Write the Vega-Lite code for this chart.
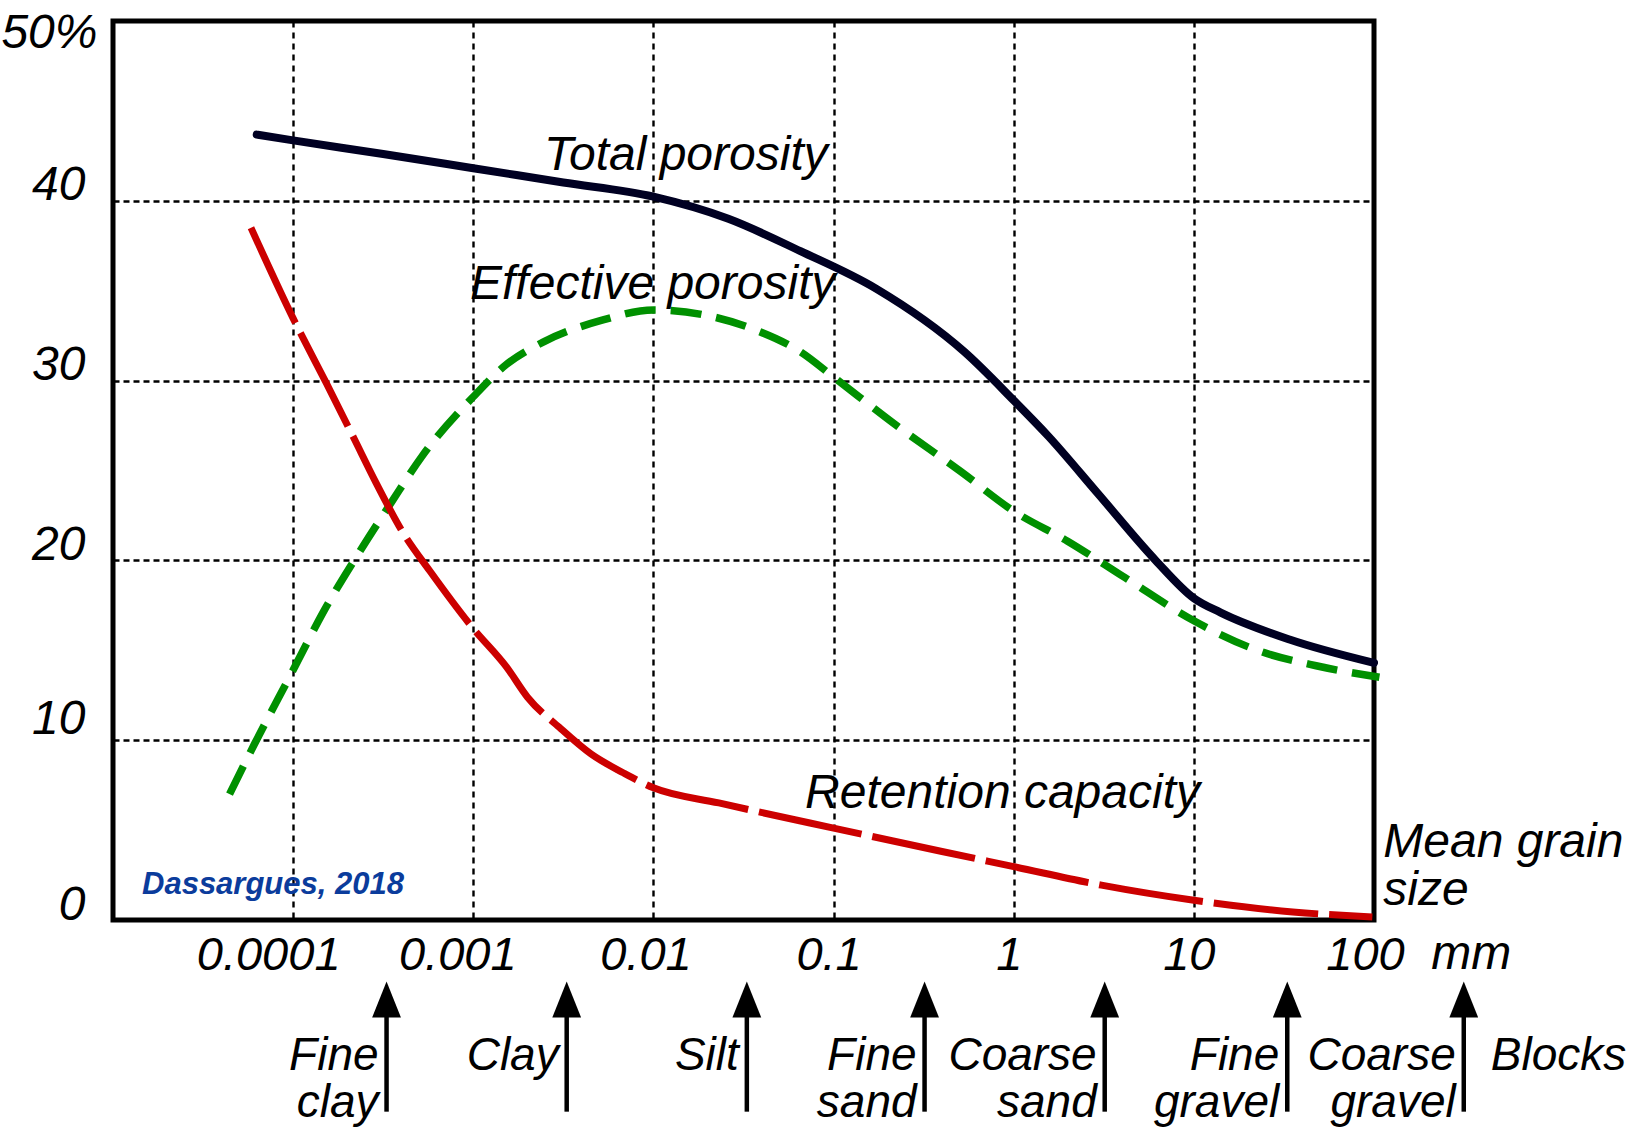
{
  "$schema": "https://vega.github.io/schema/vega-lite/v6.json",
  "width": 1261,
  "height": 899,
  "autosize": {"type": "none"},
  "padding": {"left": 113, "top": 21, "right": 273, "bottom": 209},
  "background": "white",
  "view": {"stroke": "black", "strokeWidth": 5},
  "config": {
    "font": "Liberation Sans",
    "axis": {
      "labelFont": "Liberation Sans",
      "labelFontStyle": "italic",
      "labelColor": "black",
      "domain": false,
      "ticks": false,
      "grid": true,
      "gridColor": "black",
      "gridOpacity": 1,
      "gridWidth": 2.4,
      "gridDash": [6, 4],
      "title": null,
      "labelFlush": false,
      "labelOverlap": false,
      "labelBound": false
    }
  },
  "datasets": {
    "total": [
      {"x": 0.0000628, "y": 43.68},
      {"x": 0.0001, "y": 43.36},
      {"x": 0.000316, "y": 42.6},
      {"x": 0.001, "y": 41.81},
      {"x": 0.00316, "y": 41.02},
      {"x": 0.01, "y": 40.23},
      {"x": 0.02606, "y": 39.0},
      {"x": 0.06546, "y": 37.2},
      {"x": 0.173, "y": 35.1},
      {"x": 0.532, "y": 31.6},
      {"x": 1, "y": 28.9},
      {"x": 1.56, "y": 26.9},
      {"x": 2.944, "y": 23.7},
      {"x": 6.138, "y": 20.0},
      {"x": 10, "y": 17.9},
      {"x": 14.09, "y": 17.1},
      {"x": 33.96, "y": 15.6},
      {"x": 100, "y": 14.3}
    ],
    "effective": [
      {"x": 0.00004436, "y": 7.0},
      {"x": 0.0000611, "y": 9.8},
      {"x": 0.0001, "y": 13.9},
      {"x": 0.0001459, "y": 17.07},
      {"x": 0.0002265, "y": 20.26},
      {"x": 0.0003516, "y": 23.24},
      {"x": 0.00052, "y": 25.8},
      {"x": 0.001, "y": 29.1},
      {"x": 0.001528, "y": 30.9},
      {"x": 0.002489, "y": 32.18},
      {"x": 0.005188, "y": 33.36},
      {"x": 0.01, "y": 33.93},
      {"x": 0.01849, "y": 33.68},
      {"x": 0.03673, "y": 32.82},
      {"x": 0.06546, "y": 31.6},
      {"x": 0.1, "y": 30.2},
      {"x": 0.2208, "y": 27.54},
      {"x": 0.507, "y": 24.95},
      {"x": 1, "y": 22.74},
      {"x": 1.991, "y": 21.07},
      {"x": 4.15, "y": 19.04},
      {"x": 10, "y": 16.64},
      {"x": 22.96, "y": 14.97},
      {"x": 47.75, "y": 14.14},
      {"x": 107.2, "y": 13.5}
    ],
    "retention": [
      {"x": 0.00005834, "y": 38.5},
      {"x": 0.0001, "y": 33.46},
      {"x": 0.0001531, "y": 29.84},
      {"x": 0.0002158, "y": 26.86},
      {"x": 0.0002891, "y": 24.3},
      {"x": 0.0004074, "y": 21.54},
      {"x": 0.0005741, "y": 19.41},
      {"x": 0.001, "y": 16.21},
      {"x": 0.001528, "y": 14.08},
      {"x": 0.002, "y": 12.39},
      {"x": 0.003006, "y": 10.71},
      {"x": 0.004519, "y": 9.22},
      {"x": 0.006792, "y": 8.19},
      {"x": 0.01, "y": 7.35},
      {"x": 0.02307, "y": 6.51},
      {"x": 0.1, "y": 5.11},
      {"x": 0.3999, "y": 3.81},
      {"x": 1, "y": 2.97},
      {"x": 3.069, "y": 1.94},
      {"x": 10, "y": 1.1},
      {"x": 35.4, "y": 0.45},
      {"x": 97.9, "y": 0.17}
    ],
    "notes": [
      {"x": 0.00247, "y": 41.71, "label": "Total porosity"},
      {"x": 0.000959, "y": 34.53, "label": "Effective porosity"},
      {"x": 0.0695, "y": 6.23, "label": "Retention capacity"},
      {"x": 112.6, "y": 3.48, "label": "Mean grain"},
      {"x": 112.6, "y": 0.81, "label": "size"},
      {"x": 208, "y": -2.75, "label": "mm"}
    ],
    "credit": [
      {"x": 0.00001449, "y": 1.47, "label": "Dassargues, 2018"}
    ],
    "arrows": [
      {"x": 0.00033, "y": -4.42, "y2": -10.66},
      {"x": 0.0033, "y": -4.42, "y2": -10.66},
      {"x": 0.033, "y": -4.42, "y2": -10.66},
      {"x": 0.32, "y": -4.42, "y2": -10.66},
      {"x": 3.2, "y": -4.42, "y2": -10.66},
      {"x": 33, "y": -4.42, "y2": -10.66},
      {"x": 315, "y": -4.42, "y2": -10.66}
    ],
    "classes": [
      {"x": 0.00033, "y": -8.32, "label": "Fine", "side": "left"},
      {"x": 0.00033, "y": -10.93, "label": "clay", "side": "left"},
      {"x": 0.0033, "y": -8.32, "label": "Clay", "side": "left"},
      {"x": 0.033, "y": -8.32, "label": "Silt", "side": "left"},
      {"x": 0.32, "y": -8.32, "label": "Fine", "side": "left"},
      {"x": 0.32, "y": -10.93, "label": "sand", "side": "left"},
      {"x": 3.2, "y": -8.32, "label": "Coarse", "side": "left"},
      {"x": 3.2, "y": -10.93, "label": "sand", "side": "left"},
      {"x": 33, "y": -8.32, "label": "Fine", "side": "left"},
      {"x": 33, "y": -10.93, "label": "gravel", "side": "left"},
      {"x": 315, "y": -8.32, "label": "Coarse", "side": "left"},
      {"x": 315, "y": -10.93, "label": "gravel", "side": "left"},
      {"x": 315, "y": -8.32, "label": "Blocks", "side": "right"}
    ]
  },
  "encoding": {
    "x": {
      "field": "x",
      "type": "quantitative",
      "scale": {"type": "log", "domain": [0.00001, 100], "nice": false},
      "axis": {
        "values": [0.0001, 0.001, 0.01, 0.1, 1, 10, 100],
        "labelExpr": "'' + datum.value",
        "labelFontSize": 47,
        "labelBaseline": "alphabetic",
        "labelAlign": "center",
        "labelPadding": 49.5,
        "gridDash": [6, 5],
        "labelOffset": {
          "condition": [
            {"test": "datum.value == 0.0001", "value": -25},
            {"test": "datum.value == 0.001", "value": -16},
            {"test": "datum.value == 0.01", "value": -8},
            {"test": "datum.value == 100", "value": -9}
          ],
          "value": -5
        }
      }
    },
    "y": {
      "field": "y",
      "type": "quantitative",
      "scale": {"domain": [0, 50], "nice": false, "zero": false},
      "axis": {
        "values": [0, 10, 20, 30, 40, 50],
        "labelExpr": "datum.value == 50 ? '50%' : '' + datum.value",
        "labelFontSize": 48,
        "labelBaseline": "alphabetic",
        "labelAlign": "right",
        "labelPadding": {
          "condition": {"test": "datum.value == 50", "value": 16},
          "value": 28
        },
        "labelOffset": {
          "condition": [
            {"test": "datum.value == 50", "value": 26.5},
            {"test": "datum.value == 10", "value": -7}
          ],
          "value": -1
        }
      }
    }
  },
  "layer": [
    {
      "data": {"name": "effective"},
      "mark": {"type": "line", "color": "#009000", "strokeWidth": 7.5, "strokeDash": [31, 15], "interpolate": "monotone"}
    },
    {
      "data": {"name": "retention"},
      "mark": {"type": "line", "color": "#cc0000", "strokeWidth": 7, "strokeDash": [105, 11], "interpolate": "monotone"}
    },
    {
      "data": {"name": "total"},
      "mark": {"type": "line", "color": "#000022", "strokeWidth": 8, "strokeCap": "round", "interpolate": "monotone"}
    },
    {
      "data": {"name": "notes"},
      "mark": {"type": "text", "align": "left", "baseline": "alphabetic", "fontSize": 48, "fontStyle": "italic", "font": "Liberation Sans", "color": "black"},
      "encoding": {"text": {"field": "label", "type": "nominal"}}
    },
    {
      "data": {"name": "credit"},
      "mark": {"type": "text", "align": "left", "baseline": "alphabetic", "fontSize": 31, "fontStyle": "italic", "fontWeight": "bold", "font": "Liberation Sans", "color": "#0b3c9c"},
      "encoding": {"text": {"field": "label", "type": "nominal"}}
    },
    {
      "data": {"name": "arrows"},
      "mark": {"type": "rule", "strokeWidth": 4.5, "color": "black"},
      "encoding": {"y2": {"field": "y2"}}
    },
    {
      "data": {"name": "arrows"},
      "mark": {"type": "point", "shape": "M0,-1L0.8,1L-0.8,1Z", "size": 1296, "filled": true, "color": "black", "opacity": 1, "strokeWidth": 0}
    },
    {
      "data": {"name": "classes"},
      "transform": [{"filter": "datum.side == 'left'"}],
      "mark": {"type": "text", "align": "right", "baseline": "alphabetic", "dx": -8, "fontSize": 46, "fontStyle": "italic", "font": "Liberation Sans", "color": "black"},
      "encoding": {"text": {"field": "label", "type": "nominal"}}
    },
    {
      "data": {"name": "classes"},
      "transform": [{"filter": "datum.side == 'right'"}],
      "mark": {"type": "text", "align": "left", "baseline": "alphabetic", "dx": 27, "fontSize": 46, "fontStyle": "italic", "font": "Liberation Sans", "color": "black"},
      "encoding": {"text": {"field": "label", "type": "nominal"}}
    }
  ]
}
